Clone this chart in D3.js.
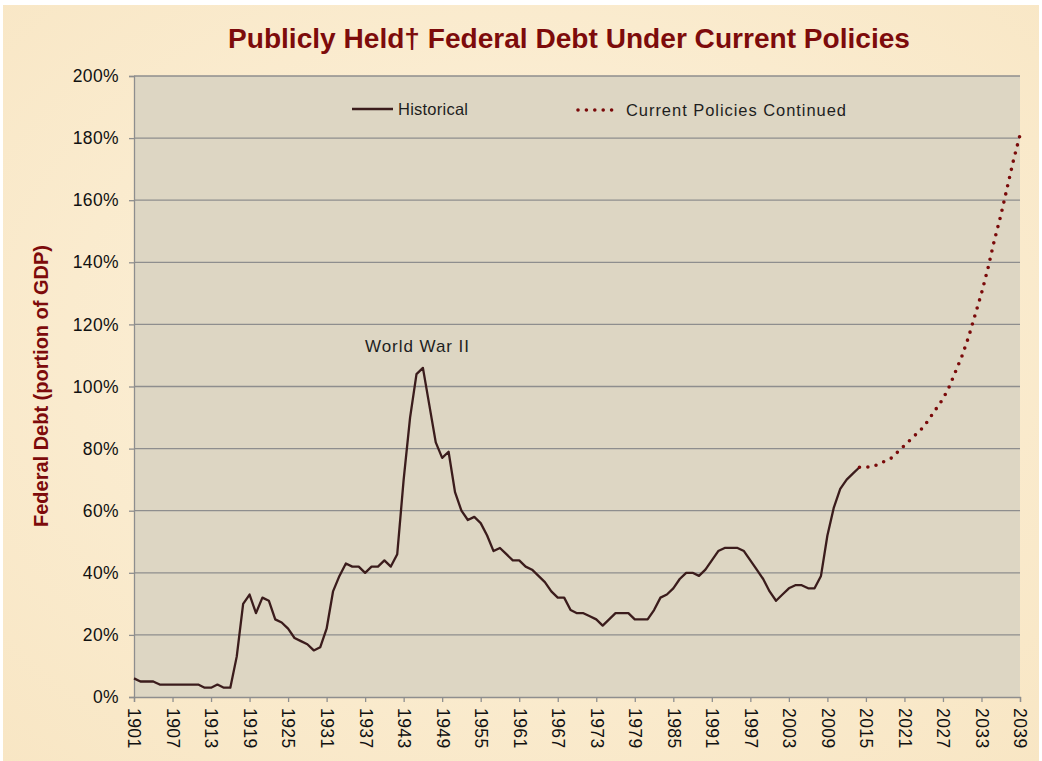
<!DOCTYPE html>
<html>
<head>
<meta charset="utf-8">
<script src="https://cdn.jsdelivr.net/npm/d3@7"></script>
<style>
  body { margin: 0; background: #fff; }
  svg { display: block; }
</style>
</head>
<body>
<div id="chart"></div>
<script>
'use strict'

// historical debt held by public, % of GDP, 1901-2014
let histStart = 1901;
let histVals = [
  6, 5, 5, 5, 4, 4, 4, 4, 4, 4,        // 1901-1910
  4, 3, 3, 4, 3, 3, 13, 30, 33, 27,    // 1911-1920
  32, 31, 25, 24, 22, 19, 18, 17, 15, 16, // 1921-1930
  22, 34, 39, 43, 42, 42, 40, 42, 42, 44, // 1931-1940
  42, 46, 70, 90, 104, 106, 94, 82, 77, 79, // 1941-1950
  66, 60, 57, 58, 56, 52, 47, 48, 46, 44, // 1951-1960
  44, 42, 41, 39, 37, 34, 32, 32, 28, 27, // 1961-1970
  27, 26, 25, 23, 25, 27, 27, 27, 25, 25, // 1971-1980
  25, 28, 32, 33, 35, 38, 40, 40, 39, 41, // 1981-1990
  44, 47, 48, 48, 48, 47, 44, 41, 38, 34, // 1991-2000
  31, 33, 35, 36, 36, 35, 35, 39, 52, 61, // 2001-2010
  67, 70, 72, 74                          // 2011-2014
];
// projection under current policies, 2014-2039
let projStart = 2014;
let projVals = [
  74, 74, 74.2, 75, 76, 77, 79, 81, 83, 85,
  87, 90, 93, 96, 100, 105, 110, 116, 123, 130,
  138, 147, 155, 164, 173, 181
];
let xTickYears = d3.range(1901, 2040, 6);
let yTickVals = d3.range(0, 201, 20);

let titleText = "Publicly Held\u2020 Federal Debt Under Current Policies";
let yLabelText = "Federal Debt (portion of GDP)";
let legendLabels = ["Historical", "Current Policies Continued"];
let annotText = "World War II";

let histData = histVals.map(function(v, i) { return {year: histStart + i, v: v}; });
let projData = projVals.map(function(v, i) { return {year: projStart + i, v: v}; });

var W = 1042, H = 761;
var margin = {top: 76, right: 22, bottom: 64, left: 134};
var font = "'Liberation Sans', Arial, sans-serif";

var svg = d3.select("#chart").append("svg")
  .attr("width", W).attr("height", H);

// parchment background
var defs = svg.append("defs");
var bg = defs.append("radialGradient").attr("id", "parch")
  .attr("cx", "50%").attr("cy", "45%").attr("r", "75%");
bg.append("stop").attr("offset", "0%").attr("stop-color", "#fdf2dc");
bg.append("stop").attr("offset", "100%").attr("stop-color", "#f8e6c4");
svg.append("rect").attr("x", 3).attr("y", 5).attr("width", W - 6).attr("height", H - 5)
  .attr("fill", "url(#parch)");

var x = d3.scaleLinear().domain([1901, 2039]).range([margin.left, W - margin.right]);
var y = d3.scaleLinear().domain([0, 200]).range([H - margin.bottom, margin.top]);

// plot area
svg.append("rect")
  .attr("x", x(1901)).attr("y", y(200))
  .attr("width", x(2039) - x(1901)).attr("height", y(0) - y(200))
  .attr("fill", "#ddd6c3");

// gridlines
svg.append("g").selectAll("line")
  .data(yTickVals.filter(function(d) { return d > 0; }))
  .enter().append("line")
  .attr("x1", x(1901)).attr("x2", x(2039))
  .attr("y1", function(d) { return y(d); }).attr("y2", function(d) { return y(d); })
  .attr("stroke", "#8e8e8e").attr("stroke-width", 1.3);

// y axis
var yAxis = svg.append("g")
  .attr("transform", "translate(" + x(1901) + ",0)")
  .call(d3.axisLeft(y).tickValues(yTickVals).tickSize(5).tickPadding(10)
    .tickFormat(function(d) { return d + "%"; }));
yAxis.selectAll("path, line").attr("stroke", "#8e8e8e").attr("stroke-width", 1.3);
yAxis.selectAll("text")
  .attr("font-family", font)
  .attr("font-size", 17.5).attr("fill", "#111")
  .attr("letter-spacing", 0.4);

// x axis
var xAxis = svg.append("g")
  .attr("transform", "translate(0," + y(0) + ")")
  .call(d3.axisBottom(x).tickValues(xTickYears).tickSize(5).tickFormat(d3.format("d")));
xAxis.selectAll("path, line").attr("stroke", "#8e8e8e").attr("stroke-width", 1.3);
xAxis.selectAll("text")
  .attr("font-family", font)
  .attr("font-size", 17.5).attr("fill", "#111")
  .attr("letter-spacing", 0.4)
  .attr("transform", "rotate(90)")
  .attr("y", 0).attr("x", 11).attr("dy", "0.35em")
  .style("text-anchor", "start");

var line = d3.line()
  .x(function(d) { return x(d.year); })
  .y(function(d) { return y(d.v); });

// historical line
svg.append("path").datum(histData)
  .attr("d", line)
  .attr("fill", "none").attr("stroke", "#3b1c1c")
  .attr("stroke-width", 2.3).attr("stroke-linejoin", "round");

// projected dotted line
svg.append("path").datum(projData)
  .attr("d", line)
  .attr("fill", "none").attr("stroke", "#7a0a0a")
  .attr("stroke-width", 3.6).attr("stroke-linecap", "round")
  .attr("stroke-dasharray", "0 8.4");

// annotation
svg.append("text")
  .attr("x", 417).attr("y", 352)
  .attr("text-anchor", "middle")
  .attr("font-family", font)
  .attr("font-size", 17).attr("fill", "#1e1e1e")
  .attr("textLength", 104).attr("lengthAdjust", "spacing")
  .text(annotText);

// legend
var lg = svg.append("g").attr("font-family", font)
  .attr("font-size", 16.5).attr("fill", "#1e1e1e");
lg.append("line").attr("x1", 352).attr("x2", 393).attr("y1", 109).attr("y2", 109)
  .attr("stroke", "#3b1c1c").attr("stroke-width", 2.3);
lg.append("text").attr("x", 398).attr("y", 115)
  .attr("textLength", 70).attr("lengthAdjust", "spacing")
  .text(legendLabels[0]);
lg.append("line").attr("x1", 578).attr("x2", 616).attr("y1", 110).attr("y2", 110)
  .attr("stroke", "#7a0a0a").attr("stroke-width", 3.6)
  .attr("stroke-linecap", "round").attr("stroke-dasharray", "0 8.4");
lg.append("text").attr("x", 626).attr("y", 116)
  .attr("textLength", 220).attr("lengthAdjust", "spacing")
  .text(legendLabels[1]);

// title
svg.append("text")
  .attr("x", 569).attr("y", 48)
  .attr("text-anchor", "middle")
  .attr("font-family", "'Liberation Sans Narrow', 'Arial Narrow', 'Liberation Sans', sans-serif")
  .attr("font-weight", "bold").attr("font-size", 27)
  .attr("fill", "#7d0b0b")
  .attr("textLength", 682).attr("lengthAdjust", "spacingAndGlyphs")
  .text(titleText);

// y axis title
svg.append("text")
  .attr("transform", "translate(48," + 386 + ") rotate(-90)")
  .attr("text-anchor", "middle")
  .attr("font-family", font)
  .attr("font-weight", "bold").attr("font-size", 21)
  .attr("fill", "#7d0b0b")
  .attr("textLength", 282).attr("lengthAdjust", "spacingAndGlyphs")
  .text(yLabelText);
</script>
</body>
</html>
